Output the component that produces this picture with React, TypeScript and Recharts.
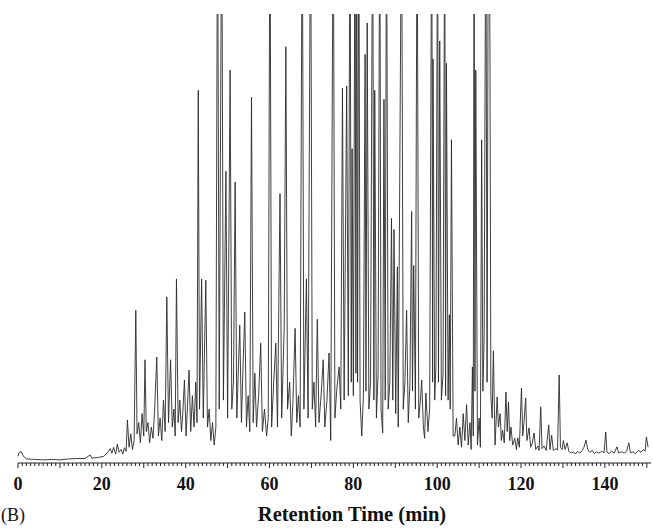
import React from 'react';
import { LineChart, Line, XAxis, YAxis } from 'recharts';

// [retention time (min), relative intensity]; values over 100 run off the top of the frame
const baselineStart: [number, number][] = [
  [0, 1.5], [0.3, 2.4], [0.8, 2.5], [1.2, 1.6], [2, 0.9], [4, 0.8], [6, 0.7], [8, 0.8],
  [10, 0.7], [12, 0.9], [14, 1.0], [16, 1.0], [17.2, 1.8], [17.6, 1.1], [19, 1.2], [20.5, 1.5],
  [21.5, 2.5], [22, 3.2], [22.4, 2.2], [22.8, 3.5], [23.3, 2.0], [23.7, 4.2], [24.1, 2.4],
  [24.6, 3.0], [25.0, 2.0], [25.4, 3.4], [25.8, 2.6],
];

const earlyPeaks: [number, number][] = [
  [26.1, 9.6], [26.5, 3.5], [26.9, 6.5], [27.3, 3.0], [27.7, 5.0], [28.1, 34], [28.4, 6.5],
  [28.8, 9], [29.2, 4.5], [29.6, 11], [30.0, 6], [30.3, 23], [30.6, 7], [31.0, 9], [31.4, 4.5],
  [31.8, 8], [32.2, 5.5], [32.6, 12], [33.1, 23.6], [33.5, 6], [33.9, 10], [34.3, 5], [34.7, 14],
  [35.1, 7], [35.5, 37], [35.9, 9], [36.4, 23], [36.8, 8], [37.2, 12], [37.5, 6], [37.8, 41],
  [38.2, 9], [38.6, 14], [39.0, 7], [39.3, 11], [39.7, 18.5], [40.1, 6], [40.4, 12], [40.8, 20.7],
  [41.2, 7], [41.6, 15], [42.0, 8], [42.4, 18], [42.7, 9], [43.0, 83], [43.3, 12], [43.8, 41],
  [44.2, 10], [44.8, 40.7], [45.2, 8], [45.6, 12], [46.0, 5], [46.4, 9], [46.8, 4], [47.2, 8],
];

const middlePeaks: [number, number][] = [
  [47.6, 130], [48.0, 12], [48.6, 130], [49.0, 14], [49.6, 65], [50.0, 10], [50.6, 87.5],
  [51.0, 12], [51.4, 18], [51.8, 62.6], [52.2, 10], [52.9, 30.7], [53.3, 9], [53.7, 22],
  [54.1, 33.6], [54.5, 8], [54.9, 15], [55.3, 7], [55.7, 81.5], [56.1, 9], [56.5, 20], [56.9, 8],
  [57.4, 15], [57.9, 26.7], [58.3, 7], [58.8, 12], [59.3, 6], [59.7, 10], [60.1, 130], [60.5, 8],
  [61.0, 18], [61.5, 26.7], [61.9, 8], [62.5, 60], [62.9, 10], [63.5, 30], [63.9, 92.7],
  [64.3, 12], [64.8, 18], [65.2, 6], [65.6, 14], [66.1, 30], [66.5, 9], [66.9, 15], [67.3, 8],
  [67.8, 130], [68.2, 12], [68.8, 41], [69.2, 10], [69.8, 130], [70.2, 12], [70.6, 18], [71.0, 8],
  [71.4, 32], [71.8, 9], [72.3, 15], [72.8, 23], [73.2, 8], [73.7, 14], [74.2, 24.5], [74.6, 5],
];

const densePeaks: [number, number][] = [
  [75.2, 130], [75.6, 10], [76.1, 17], [76.6, 21.4], [77.0, 12], [77.4, 83.5], [77.8, 14],
  [78.4, 84], [78.8, 15], [79.2, 130], [79.5, 18], [79.7, 70], [80.0, 15], [80.4, 130],
  [80.6, 20], [80.8, 130], [81.0, 18], [81.3, 130], [81.6, 14], [82.0, 6], [82.4, 15], [82.8, 91],
  [83.0, 16], [83.3, 98], [83.7, 12], [84.1, 18], [84.6, 130], [84.9, 14], [85.1, 83], [85.5, 10],
  [85.9, 20], [86.3, 130], [86.6, 12], [87.0, 6.7], [87.3, 81], [87.6, 14], [87.9, 130], [88.3, 12],
  [88.7, 18], [89.1, 54.5], [89.4, 14], [89.7, 52], [90.1, 11], [90.5, 43.7], [90.7, 8],
  [91.5, 130], [91.9, 12], [92.3, 18], [92.7, 34], [93.1, 9], [93.5, 18], [93.9, 56], [94.1, 16],
  [94.4, 44], [94.8, 12], [95.2, 130], [95.6, 10], [96.0, 14], [96.3, 18.5], [96.7, 8],
  [97.0, 5.5], [97.3, 15.6], [97.8, 7], [98.2, 12], [98.7, 130], [98.9, 18], [99.0, 90],
  [99.4, 14], [99.7, 22], [100.1, 130], [100.3, 18], [100.6, 94], [101.0, 14], [101.4, 20],
  [101.8, 130], [102.0, 15], [102.2, 89], [102.6, 14], [102.9, 33], [103.1, 12], [103.4, 72],
  [103.8, 6],
];

const latePeaks: [number, number][] = [
  [104.2, 6], [104.6, 10], [105.0, 4], [105.4, 8], [105.8, 3.5], [106.2, 11], [106.6, 5],
  [107.0, 13], [107.4, 4], [107.8, 9], [108.1, 3], [108.4, 21.4], [108.6, 6], [108.8, 130],
  [109.0, 16], [109.2, 87.5], [109.6, 4], [110.0, 10], [110.3, 3.5], [110.6, 72], [110.9, 16],
  [111.2, 28], [111.6, 130], [111.9, 18], [112.2, 130], [112.4, 130], [112.6, 87], [112.8, 15],
  [113.1, 10], [113.4, 25], [113.8, 4], [114.3, 14.7], [114.6, 8], [115.0, 11], [115.3, 5],
  [115.6, 7.3], [116.0, 4.5], [116.4, 15.8], [116.7, 7], [117.0, 13.6], [117.3, 5], [117.6, 8],
  [118.0, 4], [118.5, 5.5], [118.9, 3], [119.2, 5.6], [119.6, 3.5], [120.1, 16.7], [120.4, 6],
  [120.7, 9], [121.1, 14.5], [121.4, 5], [121.9, 7.8], [122.3, 3.5], [122.7, 4.5], [123.1, 6.7],
  [123.5, 3], [124.0, 3.8], [124.3, 2.8], [124.7, 12.5], [125.0, 3.2], [125.5, 3.8], [126.0, 2.8],
  [126.6, 8.5], [126.9, 3], [127.3, 6.2], [127.7, 2.8], [128.3, 3.2], [128.7, 2.9], [129.1, 19.6],
  [129.4, 3.5], [129.8, 3], [130.1, 5], [130.5, 3], [131.0, 4.5], [131.4, 2.6],
];

const baselineEnd: [number, number][] = [
  [132, 2.2], [132.5, 2.5], [133, 2.0], [133.5, 2.6], [134, 2.2], [134.6, 2.8], [135.0, 3.5],
  [135.5, 5.1], [135.9, 3], [136.4, 2.4], [137, 2.8], [137.5, 2.1], [138, 2.5], [138.6, 2.2],
  [139.2, 2.6], [139.8, 2.3], [140.2, 6.9], [140.5, 2.4], [141, 2.1], [141.6, 2.6], [142.2, 2.2],
  [142.9, 3.6], [143.3, 2.2], [144, 2.5], [144.6, 2.2], [145.2, 2.6], [145.7, 4.5], [146.1, 2.3],
  [146.7, 2.5], [147.3, 2.1], [148, 2.8], [148.6, 2.4], [149.2, 3.0], [149.6, 2.6], [149.9, 5.8],
  [150.3, 3.5],
];

const majorTicks = [0, 20, 40, 60, 80, 100, 120, 140];
const minorTicks = Array.from({ length: 151 }, (_, i) => i);

const data = [...baselineStart, ...earlyPeaks, ...middlePeaks, ...densePeaks, ...latePeaks, ...baselineEnd]
  .map(([time, signal]) => ({ time, signal }));

const serif = '"Liberation Serif", "Times New Roman", serif';

const TimeTick = (props: any) => {
  const { x, y, payload } = props;
  const v = payload.value as number;
  const len = v % 10 === 0 ? 5 : 3;
  return (
    <g>
      <line x1={x} x2={x} y1={y} y2={y + len} stroke="#222" strokeWidth={1} />
      {majorTicks.includes(v) && (
        <text x={x} y={y + 27} textAnchor="middle" fontFamily={serif} fontWeight="bold" fontSize={18} fill="#111">
          {v}
        </text>
      )}
    </g>
  );
};

export default function App() {
  return (
    <div style={{ position: 'absolute', left: 0, top: 0, width: 653, height: 528, background: '#fff' }}>
      <LineChart width={653} height={528} data={data} margin={{ top: 14, right: 2, left: 18, bottom: 35 }}>
        <XAxis
          dataKey="time"
          type="number"
          domain={[0, 151]}
          ticks={minorTicks}
          interval={0}
          tickSize={0}
          tickMargin={0}
          tickLine={false}
          tick={<TimeTick />}
          height={30}
          axisLine={{ stroke: '#222', strokeWidth: 1 }}
        />
        <YAxis hide domain={[0, 100]} allowDataOverflow />
        <Line
          type="linear"
          dataKey="signal"
          stroke="#2a2a2a"
          strokeWidth={0.9}
          dot={false}
          isAnimationActive={false}
        />
      </LineChart>
      <svg width={653} height={528} style={{ position: 'absolute', left: 0, top: 0, pointerEvents: 'none' }}>
        <text x={1} y={521} fontFamily={serif} fontSize={18} fill="#111">(B)</text>
        <text x={352} y={521} textAnchor="middle" fontFamily={serif} fontSize={20.5} fontWeight="bold" fill="#111">
          Retention Time (min)
        </text>
      </svg>
    </div>
  );
}
